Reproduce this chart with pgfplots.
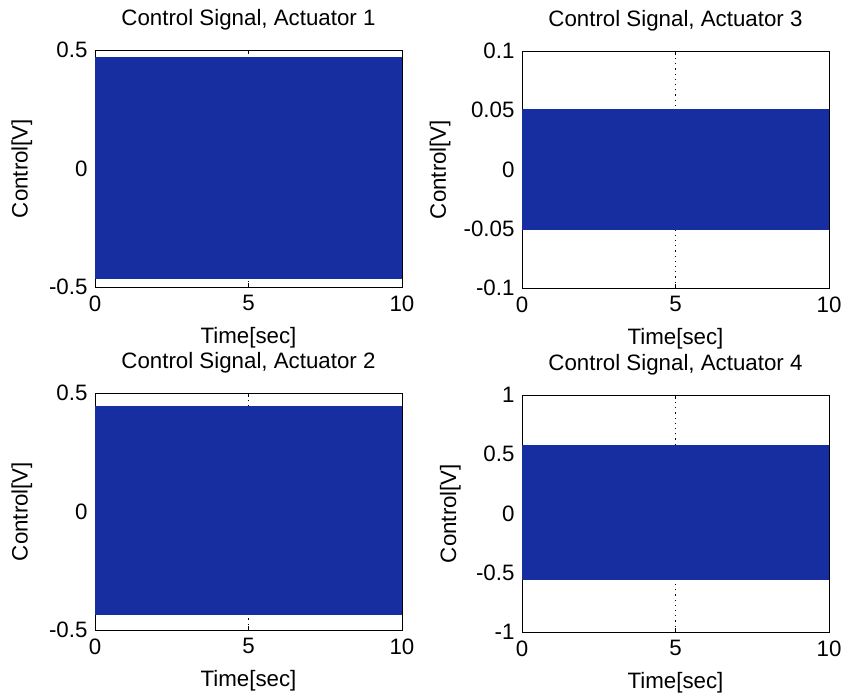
\documentclass[border=0pt]{standalone}
\usepackage{fontspec}
\setmainfont{Liberation Sans}
\usepackage{pgfplots}
\pgfplotsset{compat=1.18}
\definecolor{band}{RGB}{22,46,160}
\pgfplotsset{
  ctrl/.style={
    scale only axis, width=307pt, height=237pt,
    xmin=0, xmax=10, xtick={0,5,10}, xticklabels={0,5,10},
    xmajorgrids, grid style={black, line width=0.9pt, dash pattern=on 1.2pt off 4pt},
    axis line style={black, line width=0.9pt},
    tick style={black, line width=0.9pt},
    major tick length=4pt,
    tick align=inside,
    font=\fontsize{22.3}{26}\selectfont,
    xticklabel style={yshift=-5pt},
    yticklabel style={xshift=-4pt},
    xlabel={Time[sec]}, ylabel={Control[V]},
    xlabel style={at={(axis description cs:0.5,-0.212)}, anchor=center},
    title style={at={(axis description cs:0.5,1)}, anchor=base, yshift=18.5pt},
    scaled y ticks=false,
  }
}
\begin{document}
\begin{tikzpicture}
\useasboundingbox (0pt,0pt) rectangle (844pt,-696pt);
% Actuator 1
\begin{axis}[ctrl, at={(95pt,-50pt)}, anchor=north west,
  title={Control Signal, Actuator 1},
  ymin=-0.5, ymax=0.5, ytick={-0.5,0,0.5}, yticklabels={-0.5,0,0.5},
  ylabel style={at={(axis description cs:-0.238,0.5)}, anchor=center}]
\addplot[draw=none, fill=band] coordinates {(0,0.469) (10,0.469) (10,-0.467) (0,-0.467)};
\end{axis}
% Actuator 3
\begin{axis}[ctrl, at={(522pt,-51pt)}, anchor=north west,
  title={Control Signal, Actuator 3},
  ymin=-0.1, ymax=0.1, ytick={-0.1,-0.05,0,0.05,0.1}, yticklabels={-0.1,-0.05,0,0.05,0.1},
  ylabel style={at={(axis description cs:-0.267,0.5)}, anchor=center}]
\addplot[draw=none, fill=band] coordinates {(0,0.051) (10,0.051) (10,-0.051) (0,-0.051)};
\end{axis}
% Actuator 2
\begin{axis}[ctrl, at={(95pt,-393pt)}, anchor=north west,
  title={Control Signal, Actuator 2},
  ymin=-0.5, ymax=0.5, ytick={-0.5,0,0.5}, yticklabels={-0.5,0,0.5},
  ylabel style={at={(axis description cs:-0.238,0.5)}, anchor=center}]
\addplot[draw=none, fill=band] coordinates {(0,0.447) (10,0.447) (10,-0.436) (0,-0.436)};
\end{axis}
% Actuator 4
\begin{axis}[ctrl, at={(522pt,-395pt)}, anchor=north west,
  title={Control Signal, Actuator 4},
  ymin=-1, ymax=1, ytick={-1,-0.5,0,0.5,1}, yticklabels={-1,-0.5,0,0.5,1},
  ylabel style={at={(axis description cs:-0.233,0.5)}, anchor=center}]
\addplot[draw=none, fill=band] coordinates {(0,0.575) (10,0.575) (10,-0.56) (0,-0.56)};
\end{axis}
\end{tikzpicture}
\end{document}
